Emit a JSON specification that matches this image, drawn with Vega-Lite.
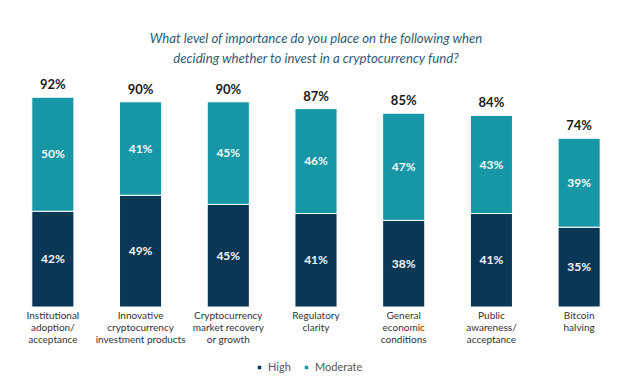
{
  "$schema": "https://vega.github.io/schema/vega-lite/v6.json",
  "width": 614,
  "height": 228,
  "autosize": {"type": "none"},
  "padding": {"left": 9, "top": 79, "right": 8, "bottom": 82},
  "background": "white",
  "config": {"view": {"stroke": null}, "font": "Lato"},
  "title": {
    "text": ["What level of importance do you place on the following when", "deciding whether to invest in a cryptocurrency fund?"],
    "anchor": "middle",
    "frame": "group",
    "font": "Lato",
    "fontSize": 13.2,
    "fontStyle": "italic",
    "fontWeight": "normal",
    "color": "#2e5b78",
    "lineHeight": 20,
    "offset": 13
  },
  "data": {
    "values": [
      {"category": "Institutional|adoption/|acceptance", "level": "High", "ord": 1, "value": 0.42},
      {"category": "Institutional|adoption/|acceptance", "level": "Moderate", "ord": 2, "value": 0.50},
      {"category": "Innovative|cryptocurrency|investment products", "level": "High", "ord": 1, "value": 0.49},
      {"category": "Innovative|cryptocurrency|investment products", "level": "Moderate", "ord": 2, "value": 0.41},
      {"category": "Cryptocurrency|market recovery|or growth", "level": "High", "ord": 1, "value": 0.45},
      {"category": "Cryptocurrency|market recovery|or growth", "level": "Moderate", "ord": 2, "value": 0.45},
      {"category": "Regulatory|clarity", "level": "High", "ord": 1, "value": 0.41},
      {"category": "Regulatory|clarity", "level": "Moderate", "ord": 2, "value": 0.46},
      {"category": "General|economic|conditions", "level": "High", "ord": 1, "value": 0.38},
      {"category": "General|economic|conditions", "level": "Moderate", "ord": 2, "value": 0.47},
      {"category": "Public|awareness/|acceptance", "level": "High", "ord": 1, "value": 0.41},
      {"category": "Public|awareness/|acceptance", "level": "Moderate", "ord": 2, "value": 0.43},
      {"category": "Bitcoin|halving", "level": "High", "ord": 1, "value": 0.35},
      {"category": "Bitcoin|halving", "level": "Moderate", "ord": 2, "value": 0.39}
    ]
  },
  "encoding": {
    "x": {
      "field": "category",
      "type": "nominal",
      "sort": null,
      "scale": {"paddingInner": 0.52, "paddingOuter": 0.26},
      "axis": {
        "title": null,
        "labelAngle": 0,
        "labelExpr": "split(datum.label, '|')",
        "labelFont": "Lato",
        "labelFontSize": 10,
        "labelLineHeight": 12,
        "labelColor": "#333333",
        "labelPadding": 3,
        "labelBaseline": "top",
        "domain": false,
        "ticks": false,
        "labelLimit": 200
      }
    }
  },
  "layer": [
    {
      "mark": {"type": "bar", "stroke": "white", "strokeWidth": 1},
      "encoding": {
        "y": {"field": "value", "type": "quantitative", "stack": "zero", "scale": {"domain": [0, 1]}, "axis": null},
        "color": {
          "field": "level",
          "type": "nominal",
          "scale": {"domain": ["High", "Moderate"], "range": ["#0b3757", "#1797a6"]},
          "legend": {
            "title": null,
            "orient": "none",
            "direction": "horizontal",
            "legendX": 245,
            "legendY": 283,
            "symbolType": "square",
            "symbolSize": 25,
            "labelFont": "Lato",
            "labelFontSize": 11,
            "labelColor": "#555555",
            "columnPadding": 10,
            "labelOffset": 3
          }
        },
        "order": {"field": "ord", "type": "quantitative"}
      }
    },
    {
      "transform": [
        {"stack": "value", "groupby": ["category"], "sort": [{"field": "ord", "order": "ascending"}], "as": ["v0", "v1"]},
        {"fold": ["v0", "v1"], "as": ["edge", "pos"]}
      ],
      "mark": {"type": "text", "color": "#f4f8f9", "fontWeight": "bold", "fontSize": 12, "font": "Lato", "baseline": "middle"},
      "encoding": {
        "y": {"aggregate": "mean", "field": "pos", "type": "quantitative", "stack": null},
        "text": {"aggregate": "max", "field": "value", "type": "quantitative", "format": ".0%"},
        "detail": {"field": "level"}
      }
    },
    {
      "mark": {"type": "text", "color": "#1a1a1a", "fontWeight": "bold", "fontSize": 13, "font": "Lato", "baseline": "bottom", "dy": -5},
      "encoding": {
        "y": {"aggregate": "sum", "field": "value", "type": "quantitative"},
        "text": {"aggregate": "sum", "field": "value", "type": "quantitative", "format": ".0%"}
      }
    }
  ]
}
